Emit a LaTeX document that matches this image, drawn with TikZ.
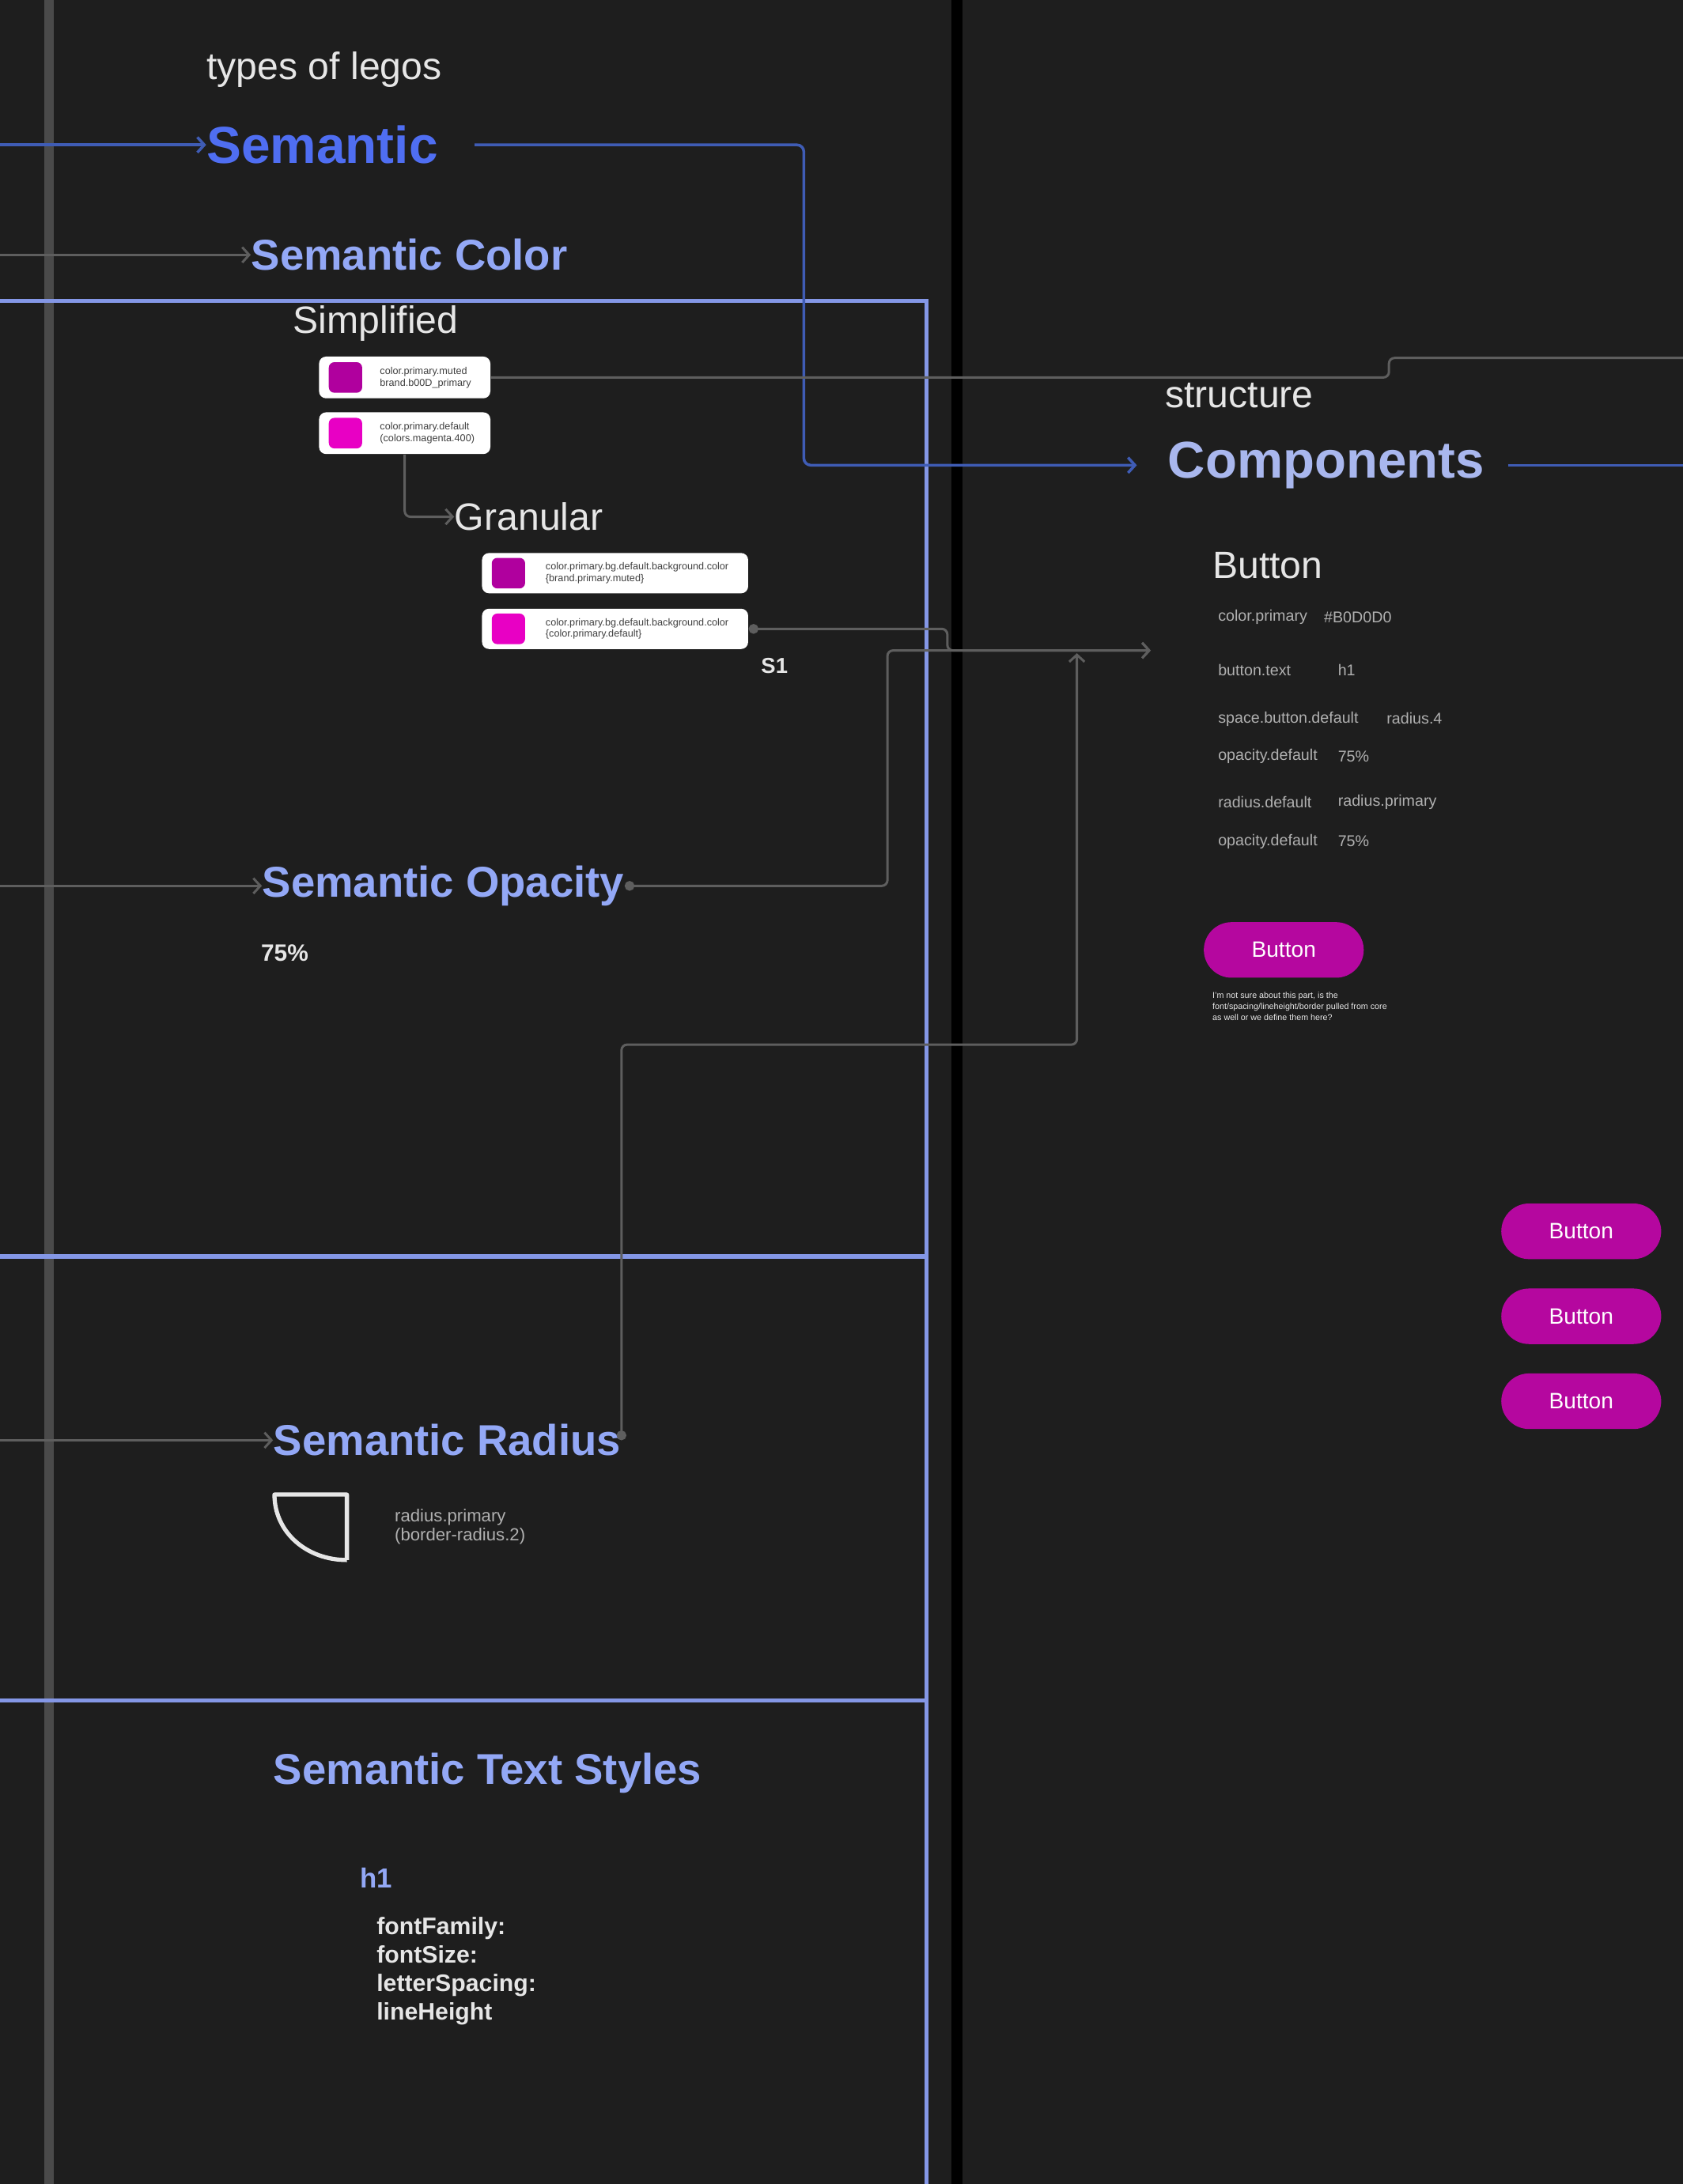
\documentclass[tikz,border=0pt]{standalone}
\usepackage{fontspec}
\setmainfont{Liberation Sans}
\usetikzlibrary{positioning,arrows.meta}

\definecolor{canvas}{HTML}{1E1E1E}
\definecolor{railgray}{HTML}{4A4A4A}
\definecolor{wiregray}{HTML}{5E5E5E}
\definecolor{frameblue}{HTML}{8497E6}
\definecolor{semblue}{HTML}{4F6EF2}
\definecolor{semwireblue}{HTML}{3F5CB5}
\definecolor{headblue}{HTML}{93A8F6}
\definecolor{compblue}{HTML}{A9B7EE}
\definecolor{magdark}{HTML}{B0009E}
\definecolor{maglight}{HTML}{E800C4}
\definecolor{btnmag}{HTML}{B5079F}
\definecolor{soft}{HTML}{E6E6E6}
\definecolor{dim}{HTML}{B0B0B0}

\tikzset{
  plain/.style={anchor=west, inner sep=0pt, text=soft, font=\fontsize{13.7}{16}\selectfont},
  heading/.style={anchor=west, inner sep=0pt, text=headblue, font=\fontsize{15.5}{18}\selectfont\bfseries},
  frame/.style={draw=frameblue, line width=1.5pt},
  wire/.style={draw=wiregray, line width=0.85pt, rounded corners=2pt},
  semwire/.style={draw=semwireblue, line width=1pt, rounded corners=2.5pt},
  arrowtip/.style={-{Straight Barb[length=2.5pt,width=5.5pt]}},
  dotted start/.style={{Circle[length=3.5pt]}-{Straight Barb[length=2.5pt,width=5.5pt]}},
  token/.style={fill=white, rounded corners=2.5pt, minimum height=15pt, inner sep=0pt},
  swatch/.style={minimum width=12pt, minimum height=11pt, rounded corners=2pt, inner sep=0pt},
  tokentext/.style={inner sep=0pt, text=black!75, align=left, font=\fontsize{3.6}{4.2}\selectfont},
  prop/.style={anchor=west, inner sep=0pt, text=dim, font=\fontsize{5.6}{6.5}\selectfont},
  pill/.style={fill=btnmag, rounded corners=10pt, minimum width=57.5pt, minimum height=20pt,
    inner sep=0pt, text=white, font=\fontsize{8}{10}\selectfont}
}

\begin{document}
\begin{tikzpicture}[x=0.01761cm, y=-0.01761cm]
% canvas
\useasboundingbox (0,0) rectangle (1208,1568);
\fill[canvas] (0,0) rectangle (1208,1568);
\clip (0,0) rectangle (1208,1568);

% rails and frames
\draw[railgray, line width=3.5pt] (35,-5) -- (35,1575);
\draw[black, line width=4pt] (687,-5) -- (687,1575);
\draw[frame] (-5,216) -- (665,216) -- (665,1575);
\draw[frame] (-5,902) -- (665,902);
\draw[frame] (-5,1221) -- (665,1221);

% left column
\node[plain] (legos) at (148,50) {types of legos};
\node[anchor=west, inner sep=0pt, text=semblue, font=\fontsize{18.7}{22}\selectfont\bfseries] (sem) at (148,104) {Semantic};
\node[heading] (semcol) at (180,183) {Semantic Color};
\node[plain] (simp) at (210,232) {Simplified};

\node[token, minimum width=61.6pt] (tok1) at (290.5,271) {};
\node[swatch, fill=magdark, right=3.5pt of tok1.west] (sw1) {};
\node[tokentext, right=6pt of sw1.east] {color.primary.muted\\brand.b00D\_primary};
\node[token, minimum width=61.6pt] (tok2) at (290.5,311) {};
\node[swatch, fill=maglight, right=3.5pt of tok2.west] (sw2) {};
\node[tokentext, right=6pt of sw2.east] {color.primary.default\\(colors.magenta.400)};

\node[plain] (gran) at (326,371) {Granular};
\node[token, minimum width=95.7pt, minimum height=14.5pt] (tok3) at (441.5,411.5) {};
\node[swatch, fill=magdark, right=3.5pt of tok3.west] (sw3) {};
\node[tokentext, right=7pt of sw3.east] {color.primary.bg.default.background.color\\\{brand.primary.muted\}};
\node[token, minimum width=95.7pt, minimum height=14.5pt] (tok4) at (441.5,451.5) {};
\node[swatch, fill=maglight, right=3.5pt of tok4.west] (sw4) {};
\node[tokentext, right=7pt of sw4.east] {color.primary.bg.default.background.color\\\{color.primary.default\}};
\node[anchor=west, inner sep=0pt, text=soft, font=\fontsize{7.8}{9}\selectfont\bfseries] (sone) at (546,478) {S1};

\node[heading] (sopac) at (188,636) {Semantic Opacity};
\node[anchor=west, inner sep=0pt, text=soft, font=\fontsize{8.5}{10}\selectfont\bfseries] (pct) at (187,684) {75\%};

\node[heading] (srad) at (196,1034) {Semantic Radius};
\draw[soft, line width=1.5pt, line join=round] (249,1120) -- (249,1073) -- (197,1073) .. controls (197,1100) and (220,1120) .. (249,1120);
\node[prop, align=left, font=\fontsize{6.3}{7}\selectfont] (radtxt) at (283,1096) {radius.primary\\(border-radius.2)};

\node[heading] (stext) at (196,1273) {Semantic Text Styles};
\node[anchor=west, inner sep=0pt, text=headblue, font=\fontsize{9.9}{12}\selectfont\bfseries] (hone) at (258,1348) {h1};
\node[anchor=west, inner sep=0pt, text=soft, align=left, font=\fontsize{8.6}{10.2}\selectfont\bfseries] (attrs) at (270,1415) {fontFamily:\\fontSize:\\letterSpacing:\\lineHeight};

% right column
\node[plain] (struct) at (836,284) {structure};
\node[anchor=west, inner sep=0pt, text=compblue, font=\fontsize{18.6}{22}\selectfont\bfseries] (comp) at (838,334) {Components};
\node[plain] (btnhead) at (870,406) {Button};

\node[prop] (k1) at (874,443) {color.primary};
\node[prop] (v1) at (950,443) {\#B0D0D0};
\node[prop] (k2) at (874,481) {button.text};
\node[prop] (v2) at (960,481) {h1};
\node[prop] (k3) at (874,516) {space.button.default};
\node[prop] (v3) at (995,516) {radius.4};
\node[prop] (k4) at (874,543) {opacity.default};
\node[prop] (v4) at (960,543) {75\%};
\node[prop] (k5) at (874,576) {radius.default};
\node[prop] (v5) at (960,576) {radius.primary};
\node[prop] (k6) at (874,604) {opacity.default};
\node[prop] (v6) at (960,604) {75\%};

\node[pill] (btn) at (921.5,682) {Button};
\node[anchor=north west, inner sep=0pt, text=soft, align=left, font=\fontsize{3.05}{3.9}\selectfont] (note) at (870,712) {I'm not sure about this part, is the\\font/spacing/lineheight/border pulled from core\\as well or we define them here?};

\node[pill] (btna) at (1135,884) {Button};
\node[pill] (btnb) at (1135,945) {Button};
\node[pill] (btnc) at (1135,1006) {Button};

% connectors
\coordinate (semsrc) at (-5,104);
\coordinate (colsrc) at (-5,183);
\coordinate (opsrc) at (-5,636);
\coordinate (radsrc) at (-5,1034);
\coordinate (btnin) at (826,467);
\coordinate (cardout) at (1215,257);
\coordinate (compout) at (1215,334);

\draw[semwire, arrowtip] (semsrc) -- (sem.west);
\draw[semwire, arrowtip, shorten <=13pt, shorten >=11pt] (sem.east) -| (577,334) -- (comp.west);
\draw[semwire, shorten <=8.5pt] (comp.east) -- (compout);
\draw[wire, arrowtip] (colsrc) -- (semcol.west);
\draw[wire, arrowtip] (opsrc) -- (sopac.west);
\draw[wire, arrowtip] (radsrc) -- (srad.west);

\draw[wire] (tok1.east) -| (997,257) -- (cardout);
\draw[wire, arrowtip] (tok2.south) |- (gran.west);
\draw[wire, dotted start] (tok4.east) -| (680,467) -- (btnin);
\draw[wire, dotted start] (sopac.east) -| (637,467) -- (btnin);
\draw[wire, dotted start] (srad.east) |- (773,750) -- (773,469);
\end{tikzpicture}
\end{document}
